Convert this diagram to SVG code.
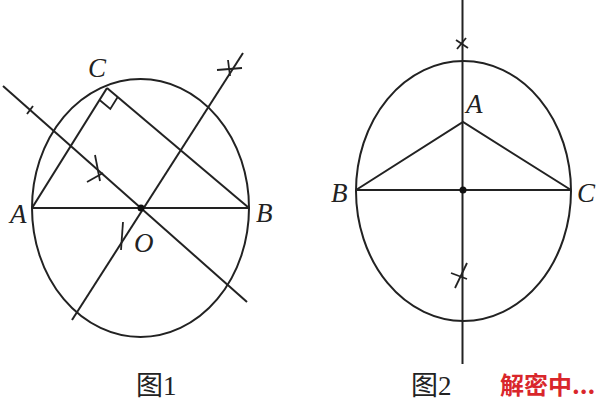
<svg xmlns="http://www.w3.org/2000/svg" width="600" height="400" viewBox="0 0 600 400">
<style>
.l{stroke:#222;stroke-width:2;fill:none}
.t{stroke:#222;stroke-width:1.8;fill:none}
.lb{font-family:"Liberation Serif",serif;font-style:italic;font-size:27px;fill:#222}
.cap{font-family:"Liberation Serif","Noto Sans CJK SC",serif;font-size:27px;fill:#222}
</style>
<rect width="600" height="400" fill="#fff"/>
<g id="fig1">
<ellipse class="l" cx="140.5" cy="208" rx="108.5" ry="129"/>
<line class="l" x1="32" y1="208" x2="249" y2="208"/>
<line class="l" x1="32" y1="208" x2="107" y2="88"/>
<line class="l" x1="107" y1="88" x2="249" y2="208"/>
<polyline class="t" points="99.6,100 110.3,109 117.7,97"/>
<line class="l" x1="3" y1="86" x2="247" y2="302"/>
<line class="l" x1="243" y1="53" x2="72" y2="320"/>
<circle cx="141" cy="208" r="3.5" fill="#111"/>
<line class="t" x1="27" y1="114" x2="33" y2="106"/>
<line class="t" x1="95" y1="155" x2="100" y2="181"/>
<line class="t" x1="87" y1="182" x2="103" y2="173"/>
<line class="t" x1="217" y1="70" x2="242" y2="68"/>
<line class="t" x1="228" y1="60" x2="230" y2="76"/>
<line class="t" x1="123" y1="222" x2="121" y2="250"/>
<text class="lb" x="88" y="77">C</text>
<text class="lb" x="10" y="223">A</text>
<text class="lb" x="256" y="222">B</text>
<text class="lb" x="134" y="252">O</text>
<text class="cap" x="136" y="395">图1</text>
</g>
<g id="fig2">
<line class="l" x1="462.5" y1="0" x2="462.5" y2="364"/>
<ellipse class="l" cx="463.5" cy="191" rx="107.5" ry="130"/>
<line class="l" x1="356" y1="190" x2="571" y2="190"/>
<polyline class="l" points="356,190 463,122 571,190"/>
<circle cx="463" cy="190" r="3.5" fill="#111"/>
<line class="t" x1="456" y1="40" x2="468" y2="48"/>
<line class="t" x1="457" y1="49" x2="466" y2="38"/>
<line class="t" x1="455" y1="288" x2="467" y2="263"/>
<line class="t" x1="451" y1="273" x2="467" y2="279"/>
<text class="lb" x="466" y="113">A</text>
<text class="lb" x="331" y="202">B</text>
<text class="lb" x="577" y="202">C</text>
<text class="cap" x="411" y="395">图2</text>
</g>
<text x="500" y="394" font-family="'Noto Sans CJK SC',sans-serif" font-weight="bold" font-size="24" fill="#d9262b">解密中...</text>
</svg>
